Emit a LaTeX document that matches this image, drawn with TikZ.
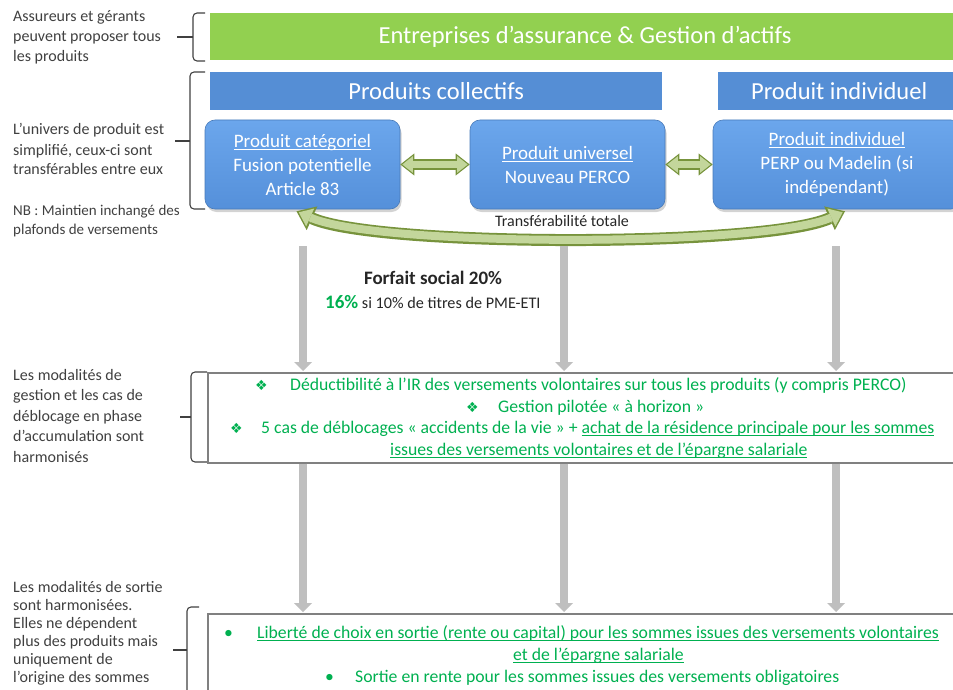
\documentclass[tikz,border=0pt]{standalone}
\usepackage{fontspec}
\setmainfont{Carlito}
\newfontfamily\symfont{DejaVu Sans}
\usetikzlibrary{arrows.meta,shadows,calc}
\definecolor{gbarc}{HTML}{92D050}
\definecolor{bbarc}{HTML}{558ED5}
\definecolor{bboxtop}{HTML}{6BA6EC}
\definecolor{bboxbot}{HTML}{5590DA}
\definecolor{agreen}{HTML}{C3D69B}
\definecolor{adark}{HTML}{77933C}
\definecolor{tgreen}{HTML}{00B050}
\definecolor{lgray}{HTML}{BFBFBF}
\definecolor{bgray}{HTML}{808080}
\definecolor{ltext}{HTML}{404040}
\definecolor{dtext}{HTML}{262626}
\newsavebox\ulbox
\newcommand{\ulx}[1]{\sbox\ulbox{#1}\rlap{\rule[-2.4pt]{\wd\ulbox}{0.9pt}}\usebox\ulbox}
\begin{document}
\begin{tikzpicture}[x=1pt,y=-1pt,
  bar/.style={rectangle, inner sep=0pt, text=white, font=\fontsize{24.5}{28}\selectfont},
  bluebox/.style={rectangle, rounded corners=10pt, top color=bboxtop, bottom color=bboxbot, draw=bboxbot!85!black, line width=0.6pt, text=white, align=center, font=\fontsize{19}{24}\selectfont, drop shadow={shadow xshift=1.5pt, shadow yshift=-3pt, opacity=0.35}},
  lt/.style={anchor=base west, inner sep=0pt, text=ltext, font=\fontsize{16}{20}\selectfont},
  gt/.style={anchor=base west, inner sep=0pt, text=tgreen, font=\fontsize{17.7}{22}\selectfont},
  bul/.style={anchor=base west, inner sep=0pt, text=tgreen, font=\symfont\fontsize{14}{16}\selectfont},
  brace/.style={draw=ltext, line width=1.1pt, rounded corners=4pt},
  gpipe/.style={draw=lgray, line width=8pt, -{Triangle[length=9pt,width=18pt,line width=0pt]}, shorten >=1pt},
  outerA/.style={draw=adark, line width=10pt, {Triangle[length=14pt,width=22pt,line width=0pt]}-{Triangle[length=14pt,width=22pt,line width=0pt]}},
  innerA/.style={draw=agreen, line width=6.5pt, {Triangle[length=10.5pt,width=16.5pt,line width=0pt]}-{Triangle[length=10.5pt,width=16.5pt,line width=0pt]}, shorten >=2pt, shorten <=2pt},
  outerC/.style={draw=adark, line width=12pt, {Triangle[length=17pt,width=26pt,line width=0pt]}-{Triangle[length=17pt,width=26pt,line width=0pt]}},
  innerC/.style={draw=agreen, line width=8pt, {Triangle[length=12.5pt,width=19.5pt,line width=0pt]}-{Triangle[length=12.5pt,width=19.5pt,line width=0pt]}, shorten >=2.5pt, shorten <=2.5pt},
  gbox/.style={draw=bgray, line width=1.6pt, rectangle, inner sep=0pt},
]
\useasboundingbox (0,0) rectangle (953,690);

% left braces
\draw[brace] (205,13) -- (193,13) -- (193,61) -- (205,61);
\draw[brace] (193,37) -- (177,37);
\draw[brace] (205,72) -- (190,72) -- (190,209) -- (205,209);
\draw[brace] (190,141) -- (175,141);
\draw[brace] (207,372) -- (191,372) -- (191,462) -- (207,462);
\draw[brace] (191,417) -- (180,417);
\draw[brace] (199,607) -- (187,607) -- (187,720);
\draw[brace] (187,650) -- (173,650);

% left texts
\foreach \t [count=\i] in {Assureurs et gérants, peuvent  proposer tous, les produits}
  \node[lt] (ta\i) at (13, 2+20*\i) {\t};
\foreach \t [count=\i] in {L’univers de produit  est, {simplifié, ceux-ci sont}, transférables entre eux}
  \node[lt] (tb\i) at (13, 115+20*\i) {\t};
\foreach \t [count=\i] in {NB : Maintien inchangé des, plafonds de versements}
  \node[lt, font=\fontsize{15}{19}\selectfont] (tn\i) at (13, 196+19*\i) {\t};
\foreach \t [count=\i] in {Les modalités de, gestion et les cas de, déblocage en phase, d’accumulation sont, harmonisés}
  \node[lt] (tc\i) at (13, 359.5+20.5*\i) {\t};
\foreach \t [count=\i] in {Les modalités de sortie, sont harmonisées., Elles ne dépendent, plus des produits mais, uniquement  de, l’origine des sommes}
  \node[lt] (td\i) at (13, 574+18*\i) {\t};

% bars
\node[bar, fill=gbarc, minimum width=760, minimum height=47, anchor=north west] (gbar) at (210,13) {};
\node[bar] (gbart) at (585,36.5) {Entreprises d’assurance \& Gestion d’actifs};
\node[bar, fill=bbarc, minimum width=452, minimum height=38, anchor=north west] (pc) at (210,72) {Produits collectifs};
\node[bar, fill=bbarc, minimum width=242, minimum height=38, anchor=north west] (pi) at (718,72) {Produit individuel};

% product boxes
\node[bluebox, minimum width=195, minimum height=89] (b1) at (302.5,164.5) {\ulx{Produit catégoriel}\\Fusion potentielle\\Article 83};
\node[bluebox, minimum width=195, minimum height=89] (b2) at (567.5,164.5) {\ulx{Produit universel}\\Nouveau PERCO};
\node[bluebox, minimum width=248, minimum height=89] (b3) at (837,164.5) {\ulx{Produit individuel}\\PERP ou Madelin (si\\indépendant)};

% horizontal double arrows
\draw[outerA] (b1.east) -- (b2.west);
\draw[innerA] (b1.east) -- (b2.west);
\draw[outerA] (b2.east) -- (b3.west);
\draw[innerA] (b2.east) -- (b3.west);

% curved transfer arrow
\coordinate (cl) at ($(b1.south)+(-6,2)$);
\coordinate (cr) at ($(b3.south)+(8,2)$);
\draw[outerC] (cl) .. controls +(80,36) and +(-80,36) .. (cr);
\draw[innerC] (cl) .. controls +(80,36) and +(-80,36) .. (cr);
\node[anchor=base, inner sep=0pt, text=dtext, font=\fontsize{16}{18}\selectfont] (tt) at (562,226) {Transférabilité totale};

% middle boxes
\node[gbox, minimum width=770, minimum height=90, anchor=north west] (m) at (207,372) {};
\node[gbox, minimum width=770, minimum height=100, anchor=north west] (s) at (207,613) {};

% gray arrows
\coordinate (p1) at (303,246);
\coordinate (p2) at (564,246);
\coordinate (p3) at (836,246);
\foreach \p in {p1,p2,p3} {
  \draw[gpipe] (\p) -- (\p |- m.north);
  \draw[gpipe] (\p |- m.south) -- (\p |- s.north);
}

% forfait
\node[anchor=base, inner sep=0pt, text=dtext, font=\fontsize{19}{22}\selectfont\bfseries] (ff) at (433,284) {Forfait social 20\%};
\node[anchor=base west, inner sep=0pt, text=dtext] (fs) at (325,308) {{\fontsize{19}{22}\selectfont\bfseries\textcolor{tgreen}{16\%}}{\fontsize{16.2}{20}\selectfont{} si 10\% de titres de PME-ETI}};

% box 2 text
\node[bul] (m1b) at (255,390) {❖};
\node[gt] (m1) at (290,390) {Déductibilité à l’IR des versements volontaires sur tous les produits (y compris PERCO)};
\node[bul] (m2b) at (466,412) {❖};
\node[gt] (m2) at (498,412) {Gestion pilotée «~à horizon~»};
\node[bul] (m3b) at (230,433) {❖};
\node[gt] (m3) at (261,433) {5 cas de déblocages «~accidents de la vie~» + \ulx{achat de la résidence principale pour les sommes}};
\node[gt] (m4) at (390,455) {\ulx{issues des versements volontaires et de l’épargne salariale}};

% box 3 text
\node[gt] (s1b) at (224,638) {•};
\node[gt] (s1) at (257,638) {\ulx{Liberté de choix en sortie (rente ou capital) pour les sommes issues des versements volontaires}};
\node[gt] (s2) at (513,660) {\ulx{et de l’épargne salariale}};
\node[gt] (s3b) at (325,682) {•};
\node[gt] (s3) at (355,682) {Sortie en rente pour les sommes issues des versements obligatoires};
\end{tikzpicture}
\end{document}
